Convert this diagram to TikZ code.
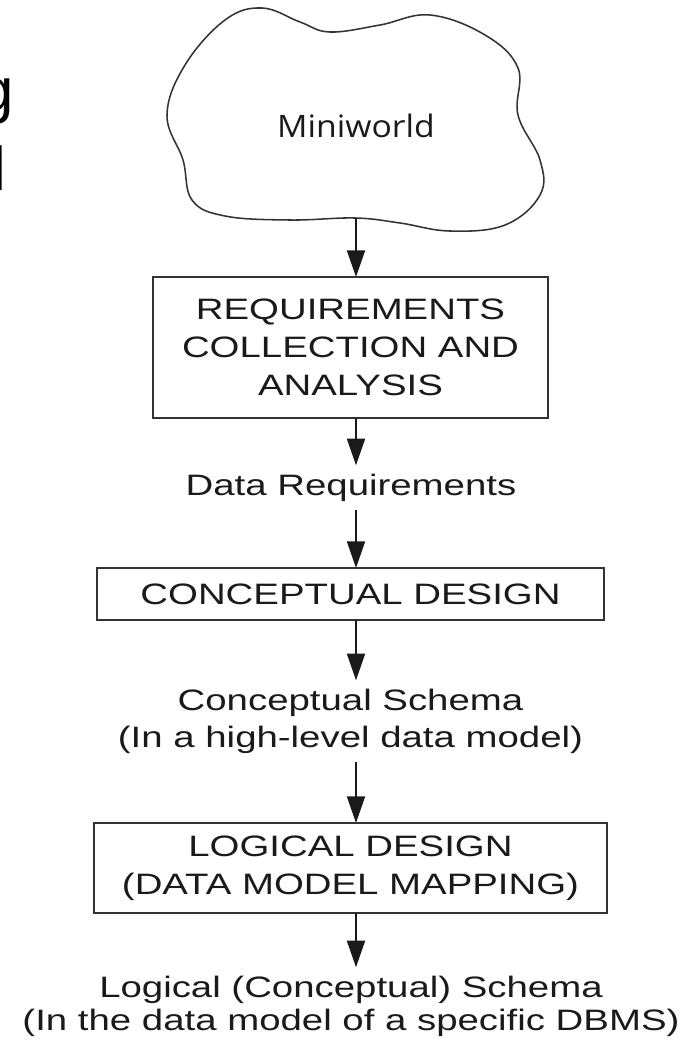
\documentclass[tikz,border=0pt]{standalone}
\usepackage{fontspec}
\usetikzlibrary{arrows.meta}
\newfontfamily\flowfont[FakeStretch=1.3]{Liberation Sans}
\newfontfamily\worldfont[FakeStretch=1.09]{Open Sans}
\newfontfamily\titlefont{Liberation Sans}
\definecolor{LineGrey}{HTML}{333333}
\definecolor{InkBlack}{HTML}{1A1A1A}

\begin{document}
\begin{tikzpicture}[x=0.25mm, y=-0.25mm,
  stepbox/.style={draw=LineGrey, line width=1.4pt, inner sep=0pt, outer sep=0pt,
    align=center, text=InkBlack, font=\flowfont\fontsize{21}{27.2}\selectfont},
  datatext/.style={inner sep=0pt, outer sep=6pt, align=center, text=InkBlack,
    font=\flowfont\fontsize{21}{26.3}\selectfont},
  flow/.style={draw=InkBlack, line width=1.4pt, -{Triangle[length=19pt,width=12.8pt]}}]
  \useasboundingbox (0,0) rectangle (684,1042);

  % cut-off title on the left
  \node[anchor=base east, inner sep=0pt, font=\titlefont\fontsize{44}{50}\selectfont] (TitleG) at (14,111) {g};
  \node[anchor=base east, inner sep=0pt, font=\titlefont\fontsize{44}{50}\selectfont] (TitleL) at (7,190) {l};

  % the miniworld cloud
  \draw[LineGrey, line width=1.1pt] plot[smooth cycle, tension=0.65] coordinates {
    (167,115) (185,65) (225,20) (262,8) (300,22) (330,32) (380,25) (430,15)
    (485,35) (518,68) (518,115) (540,160) (540,195) (505,225) (450,231)
    (400,223) (355,218) (290,220) (225,216) (192,200) (183,160)};
  \coordinate (CloudBot) at (356,218);
  \node[anchor=base, inner sep=0pt, text=InkBlack, font=\worldfont\fontsize{22}{26}\selectfont] (Miniworld) at (356,137) {Miniworld};

  \node[stepbox, minimum width=395*0.25mm, minimum height=141*0.25mm] (ReqBox) at (350.5,347.5)
    {REQUIREMENTS\\COLLECTION AND\\ANALYSIS};
  \node[datatext] (DataReq) at (351,487.5) {Data Requirements};
  \node[stepbox, minimum width=507*0.25mm, minimum height=52*0.25mm] (ConcBox) at (350.5,594)
    {CONCEPTUAL DESIGN};
  \node[datatext] (ConcSchema) at (350.5,721) {Conceptual Schema\\(In a high-level data model)};
  \node[stepbox, minimum width=513*0.25mm, minimum height=90*0.25mm] (LogBox) at (350.5,868)
    {LOGICAL DESIGN\\(DATA MODEL MAPPING)};
  \node[datatext, font=\flowfont\fontsize{21}{23.5}\selectfont] (LogSchema) at (351,1006)
    {Logical (Conceptual) Schema\\(In the data model of a specific DBMS)};

  % arrows down the middle
  \coordinate (Axis) at (356,0);
  \draw[flow] (CloudBot) -- (ReqBox.north -| Axis);
  \foreach \from/\to in {ReqBox/DataReq, DataReq/ConcBox, ConcBox/ConcSchema,
                         ConcSchema/LogBox, LogBox/LogSchema}
    \draw[flow] (\from.south -| Axis) -- (\to.north -| Axis);
\end{tikzpicture}
\end{document}
